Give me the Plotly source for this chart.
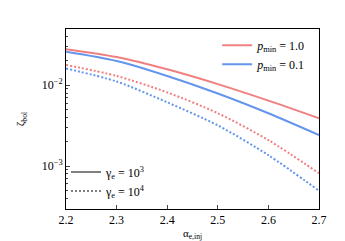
import plotly.graph_objects as go

alpha = [2.2, 2.3, 2.4, 2.5, 2.6, 2.7]
# gamma_e = 1e3 (solid)
red_solid = [0.0279, 0.0223, 0.0157, 0.0103, 0.00644, 0.0039]
blue_solid = [0.0259, 0.0199, 0.0130, 0.0079, 0.0045, 0.00242]
# gamma_e = 1e4 (dotted)
red_dot = [0.0178, 0.0130, 0.00814, 0.0045, 0.00209, 0.000813]
blue_dot = [0.0161, 0.0111, 0.00614, 0.00318, 0.00136, 0.000494]

xticks = [2.2, 2.3, 2.4, 2.5, 2.6, 2.7]
yticks = [1e-3, 1e-2]
yticklabels = ["10<sup>−3</sup>", "10<sup>−2</sup>"]
yminor = [k * 10.0 ** e for e in (-4, -3, -2) for k in range(2, 10)]

RED = "#F08080"
BLUE = "#6495ED"
GREY = "#808080"
FONT = "Liberation Serif"

fig = go.Figure()
fig.add_trace(go.Scatter(x=alpha, y=red_solid, mode="lines", line=dict(color=RED, width=2, shape="spline", smoothing=0.8),
                         name="<i>p</i><sub>min</sub> = 1.0", legend="legend"))
fig.add_trace(go.Scatter(x=alpha, y=blue_solid, mode="lines", line=dict(color=BLUE, width=2, shape="spline", smoothing=0.8),
                         name="<i>p</i><sub>min</sub> = 0.1", legend="legend"))
fig.add_trace(go.Scatter(x=alpha, y=red_dot, mode="lines", line=dict(color=RED, width=2, dash="2px,2px", shape="spline", smoothing=0.8),
                         showlegend=False))
fig.add_trace(go.Scatter(x=alpha, y=blue_dot, mode="lines", line=dict(color=BLUE, width=2, dash="2px,2px", shape="spline", smoothing=0.8),
                         showlegend=False))
fig.add_trace(go.Scatter(x=[None], y=[None], mode="lines", line=dict(color=GREY, width=2),
                         name="γ<sub>e</sub> = 10<sup>3</sup>", legend="legend2"))
fig.add_trace(go.Scatter(x=[None], y=[None], mode="lines", line=dict(color=GREY, width=2, dash="2px,2px"),
                         name="γ<sub>e</sub> = 10<sup>4</sup>", legend="legend2"))

fig.update_layout(
    width=345, height=241,
    margin=dict(l=55, r=34, t=21, b=38),
    paper_bgcolor="white", plot_bgcolor="white",
    font=dict(family=FONT, size=12, color="black"),
    xaxis=dict(range=[2.2, 2.7], tickvals=xticks, ticktext=[f"{v:.1f}" for v in xticks],
               ticks="inside", ticklen=4, showline=True, linecolor="black", linewidth=1,
               mirror=True, showgrid=False, zeroline=False,
               title=dict(text="α<sub>e,inj</sub>", font=dict(size=11), standoff=2)),
    yaxis=dict(type="log", range=[-3.532, -1.305], tickvals=yticks, ticktext=yticklabels,
               ticks="inside", ticklen=4, showline=True, linecolor="black", linewidth=1,
               mirror=True, showgrid=False, zeroline=False,
               minor=dict(tickvals=yminor, ticks="inside", ticklen=2, showgrid=False),
               title=dict(text="ζ<sub>bol</sub>", font=dict(size=11), standoff=14)),
    legend=dict(x=0.965, y=0.99, xanchor="right", yanchor="top", bgcolor="rgba(0,0,0,0)",
                font=dict(size=12), tracegroupgap=0, itemwidth=30),
    legend2=dict(x=0.0, y=0.02, xanchor="left", yanchor="bottom", bgcolor="rgba(0,0,0,0)",
                 font=dict(size=12), tracegroupgap=0, itemwidth=30),
)

fig.write_html("out.html")
